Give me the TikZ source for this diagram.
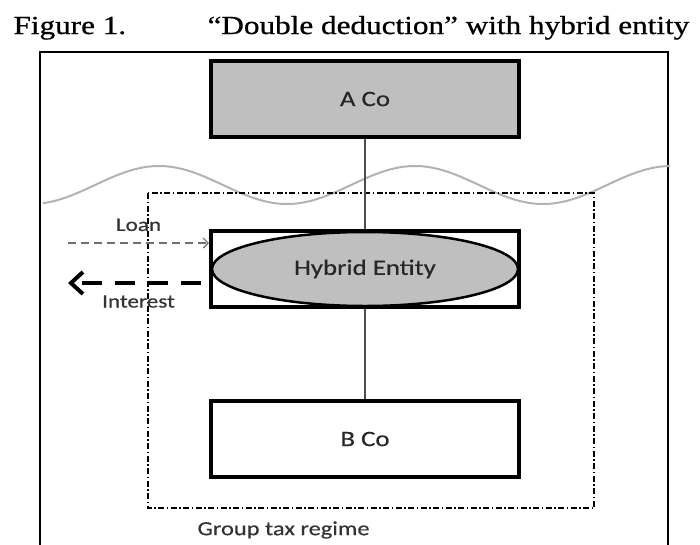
\documentclass[tikz,border=0pt]{standalone}
\usepackage{fontspec}
\setmainfont{Liberation Serif}[FakeStretch=1.2,FakeBold=0.8]
\newfontfamily\boxfont{Carlito}[FakeStretch=1.22,FakeBold=0.4]
\usepackage{tikz}
\usetikzlibrary{arrows.meta,positioning,shapes.geometric}
\definecolor{entgray}{RGB}{191,191,191}
\definecolor{wavegray}{RGB}{178,178,178}
\definecolor{loangray}{RGB}{110,110,110}

\begin{document}
\begin{tikzpicture}[x=1pt,y=-1pt,
  comp/.style={rectangle,draw,line width=4pt,minimum width=308pt,minimum height=76pt,
               font=\boxfont\fontsize{22}{26}\selectfont,text=black!85},
  ent/.style={ellipse,draw,line width=2.5pt,fill=entgray,minimum width=306pt,minimum height=74pt,
              font=\boxfont\fontsize{22}{26}\selectfont,text=black!85},
  grp/.style={draw,line width=1.8pt,dash pattern=on 6pt off 2.5pt on 1.5pt off 2.5pt},
  link/.style={draw=black!70,line width=1.5pt},
  loanarr/.style={draw=loangray,line width=1.2pt,dash pattern=on 8pt off 5pt,
                  -{Straight Barb[length=5pt,width=10pt]}},
  intarr/.style={draw,line width=4pt,dash pattern=on 20pt off 13pt,
                 -{Straight Barb[length=12pt,width=22pt]}},
  lbl/.style={font=\boxfont\fontsize{19}{22}\selectfont,text=black!80},
  ttl/.style={anchor=base west,font=\fontsize{26}{30}\selectfont}
]
\useasboundingbox (0,0) rectangle (700,544);

% Titel
\node[ttl] (fig) at (10,34) {Figure 1.};
\node[ttl] (head) at (204,34) {“Double deduction” with hybrid entity};

% Rahmen
\draw[line width=2pt] (40,560) -- (40,52) -- (668,52) -- (668,560);

% Wellenlinie (Periode 256)
\draw[wavegray,line width=2pt] plot[domain=43:670,samples=140,smooth]
  (\x,{185-19*cos(1.40625*(\x-159))});

% Gruppenbesteuerung
\draw[grp] (148,193) rectangle (594,508);
\node[lbl,font=\boxfont\fontsize{20}{24}\selectfont,anchor=west] (gtr) at (194,530) {Group tax regime};

% Gesellschaften
\node[comp,fill=entgray] (aco) at (365,99) {A Co};
\node[comp,below=90pt of aco] (hyb) {};
\node[ent] (hybe) at (hyb.center) {Hybrid Entity};
\node[comp,below=90pt of hyb] (bco) {B Co};

\draw[link] (aco) -- (hyb);
\draw[link] (hyb) -- (bco);

% Darlehen und Zinsen
\coordinate (loanend) at (68,243);
\coordinate (intend) at (68,283);
\draw[loanarr] (loanend) -- node[lbl,above=8pt] (loan) {Loan} (loanend -| hyb.west);
\draw[intarr,shorten <=8pt] (intend -| hyb.west) -- node[lbl,below=7pt] (int) {Interest} (intend);
\end{tikzpicture}
\end{document}
